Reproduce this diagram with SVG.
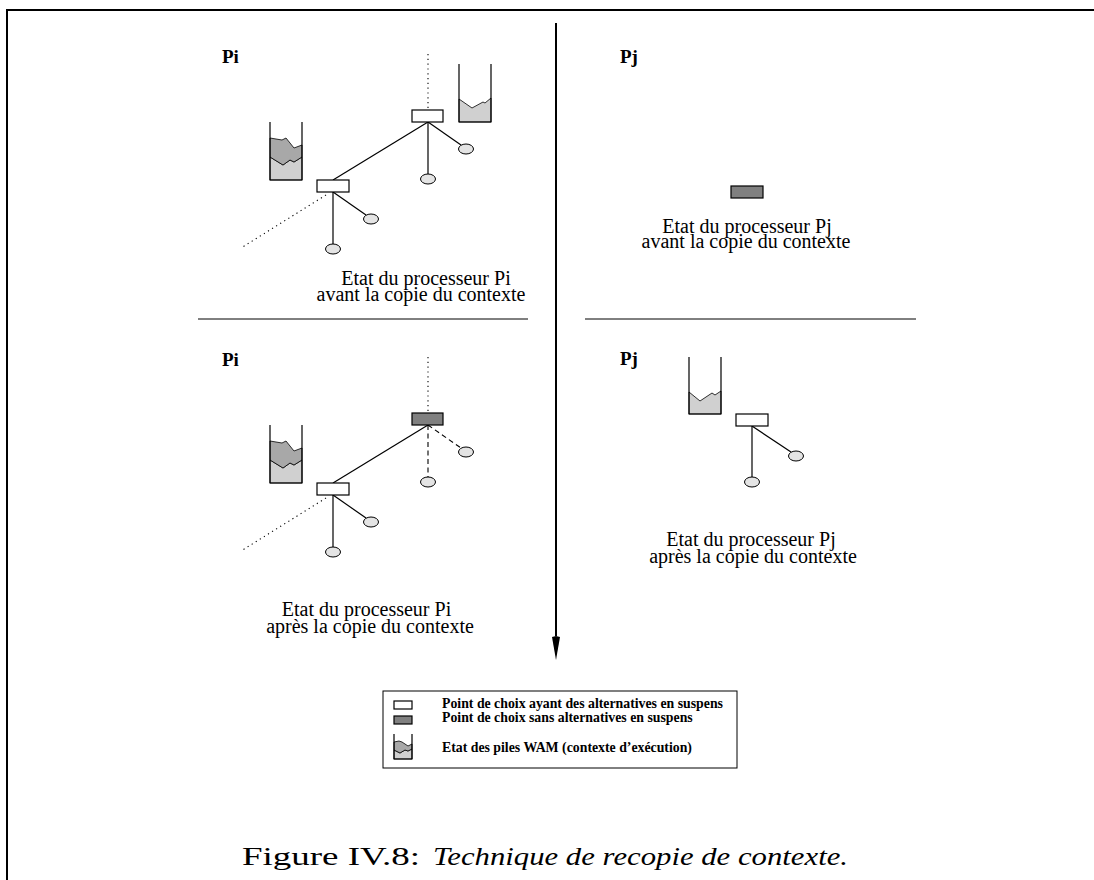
<svg xmlns="http://www.w3.org/2000/svg" width="1094" height="880" viewBox="0 0 1094 880">
<style>
.t{font-family:"Liberation Serif","Times New Roman",serif;font-size:20px;fill:#000}
.lb{font-family:"Liberation Serif","Times New Roman",serif;font-size:19px;font-weight:bold;fill:#000}
.lg{font-family:"Liberation Serif","Times New Roman",serif;font-size:13.8px;font-weight:bold;fill:#000}
.cap{font-family:"Liberation Serif","Times New Roman",serif;font-size:26px;fill:#000}
.cp{fill:#fff;stroke:#000;stroke-width:1.2}
.cpd{fill:#808080;stroke:#000;stroke-width:1.2}
.leaf{fill:#e4e4e4;stroke:#000;stroke-width:1}
.wall{fill:none;stroke:#000;stroke-width:1.2}
.lt{fill:#d0d0d0;stroke:#000;stroke-width:0.8}
.dk{fill:#a8a8a8;stroke:#000;stroke-width:0.8}
.e{stroke:#000;stroke-width:1.2;fill:none}
.dot{stroke:#000;stroke-width:1.1;stroke-dasharray:1.2 3.6;fill:none}
.dash{stroke:#000;stroke-width:1.1;stroke-dasharray:5 3.5;fill:none}
.sep{stroke:#000;stroke-width:1;fill:none}
</style>
<rect width="1094" height="880" fill="#fff"/>

<!-- frame -->
<g id="frame">
<path d="M7,880 V10 H1094" fill="none" stroke="#000" stroke-width="2"/>
</g>

<g id="connectors">
<!-- main divider -->
<line x1="556" y1="23" x2="556" y2="636" stroke="#000" stroke-width="2"/>
<path d="M556,636 L552,637 L556,660 L560,637 Z" fill="#000"/>
<line class="sep" x1="198" y1="319" x2="528" y2="319"/>
<line class="sep" x1="585" y1="319" x2="916" y2="319"/>

<!-- top-left tree -->
<line class="dot" x1="428" y1="54" x2="428" y2="109"/>
<line class="e" x1="428" y1="122" x2="333" y2="180"/>
<line class="e" x1="428" y1="122" x2="428" y2="174"/>
<line class="e" x1="428" y1="122" x2="461" y2="145"/>
<line class="e" x1="333" y1="192" x2="333" y2="244"/>
<line class="e" x1="333" y1="192" x2="366" y2="215"/>
<line class="dot" x1="326" y1="195" x2="241" y2="248"/>

<!-- bottom-left tree -->
<line class="dot" x1="428" y1="357" x2="428" y2="412"/>
<line class="e" x1="428" y1="425" x2="333" y2="483"/>
<line class="dash" x1="428" y1="425" x2="428" y2="477"/>
<line class="dash" x1="428" y1="425" x2="461" y2="448"/>
<line class="e" x1="333" y1="495" x2="333" y2="547"/>
<line class="e" x1="333" y1="495" x2="366" y2="518"/>
<line class="dot" x1="326" y1="498" x2="241" y2="551"/>

<!-- bottom-right tree -->
<line class="e" x1="752" y1="426" x2="752" y2="477"/>
<line class="e" x1="752" y1="426" x2="791" y2="452"/>
</g>

<!-- top-left quadrant -->
<g id="tl-label"><text class="lb" x="222" y="63">Pi</text></g>
<g id="tl-stack-left">
<path class="lt" d="M270,157 L283,165 L290,160 L294,162 L302,157 V180 H270 Z"/>
<path class="dk" d="M270,138 L282,140 L286,138 L294,148 L302,145 V157 L294,162 L290,160 L283,165 L270,157 Z"/>
<path class="wall" d="M270,122 V180 H302 V122"/>
</g>
<g id="tl-stack-right">
<path class="lt" d="M459,99 L472,108 L483,102 L485,103 L491,98 V122 H459 Z"/>
<path class="wall" d="M459,64 V122 H491 V64"/>
</g>
<g id="tl-cp-top"><rect class="cp" x="412" y="110" width="31" height="12"/></g>
<g id="tl-cp-bottom"><rect class="cp" x="317" y="180" width="32" height="12"/></g>
<g id="tl-leaf-1"><ellipse class="leaf" cx="428" cy="179" rx="7.5" ry="5"/></g>
<g id="tl-leaf-2"><ellipse class="leaf" cx="466" cy="149" rx="7.5" ry="5"/></g>
<g id="tl-leaf-3"><ellipse class="leaf" cx="333" cy="249" rx="7.5" ry="5"/></g>
<g id="tl-leaf-4"><ellipse class="leaf" cx="371" cy="219" rx="7.5" ry="5"/></g>
<g id="tl-caption">
<text class="t" x="426" y="285" text-anchor="middle">Etat du processeur Pi</text>
<text class="t" x="421" y="301" text-anchor="middle">avant la copie du contexte</text>
</g>

<!-- top-right quadrant -->
<g id="tr-label"><text class="lb" x="620" y="63">Pj</text></g>
<g id="tr-cp"><rect class="cpd" x="731" y="186" width="32" height="12"/></g>
<g id="tr-caption">
<text class="t" x="747" y="232.5" text-anchor="middle">Etat du processeur Pj</text>
<text class="t" x="746" y="247.5" text-anchor="middle">avant la copie du contexte</text>
</g>

<!-- bottom-left quadrant -->
<g id="bl-label"><text class="lb" x="222" y="366">Pi</text></g>
<g id="bl-stack">
<path class="lt" d="M270,460 L283,468 L290,463 L294,465 L302,460 V483 H270 Z"/>
<path class="dk" d="M270,441 L282,443 L286,441 L294,451 L302,448 V460 L294,465 L290,463 L283,468 L270,460 Z"/>
<path class="wall" d="M270,425 V483 H302 V425"/>
</g>
<g id="bl-cp-top"><rect class="cpd" x="412" y="413" width="31" height="12"/></g>
<g id="bl-cp-bottom"><rect class="cp" x="317" y="483" width="32" height="12"/></g>
<g id="bl-leaf-1"><ellipse class="leaf" cx="428" cy="482" rx="7.5" ry="5"/></g>
<g id="bl-leaf-2"><ellipse class="leaf" cx="466" cy="452" rx="7.5" ry="5"/></g>
<g id="bl-leaf-3"><ellipse class="leaf" cx="333" cy="552" rx="7.5" ry="5"/></g>
<g id="bl-leaf-4"><ellipse class="leaf" cx="371" cy="522" rx="7.5" ry="5"/></g>
<g id="bl-caption">
<text class="t" x="366.5" y="615.5" text-anchor="middle">Etat du processeur Pi</text>
<text class="t" x="370" y="632.5" text-anchor="middle">après la copie du contexte</text>
</g>

<!-- bottom-right quadrant -->
<g id="br-label"><text class="lb" x="620" y="365">Pj</text></g>
<g id="br-stack">
<path class="lt" d="M689,392 L700,401 L712,393 L715,395 L721,391 V414 H689 Z"/>
<path class="wall" d="M689,357 V414 H721 V357"/>
</g>
<g id="br-cp"><rect class="cp" x="736" y="414" width="32" height="12"/></g>
<g id="br-leaf-1"><ellipse class="leaf" cx="752" cy="482" rx="7.5" ry="5"/></g>
<g id="br-leaf-2"><ellipse class="leaf" cx="796" cy="456" rx="7.5" ry="5"/></g>
<g id="br-caption">
<text class="t" x="751" y="546" text-anchor="middle">Etat du processeur Pj</text>
<text class="t" x="753" y="562.5" text-anchor="middle">après la copie du contexte</text>
</g>

<!-- legend -->
<g id="legend">
<rect x="383" y="691" width="354" height="77" fill="#fff" stroke="#000" stroke-width="1"/>
<rect class="cp" x="394" y="701" width="18" height="8"/>
<rect class="cpd" x="394" y="716" width="18" height="8"/>
<path class="lt" d="M394,750 L400,753 L405,750 L408,751 L412,749 V759 H394 Z"/>
<path class="dk" d="M394,742 L399,741 L402,742 L408,746 L412,744 V749 L408,751 L405,750 L400,753 L394,750 Z"/>
<path class="wall" d="M394,734 V759 H412 V734"/>
<text class="lg" x="442" y="708">Point de choix ayant des alternatives en suspens</text>
<text class="lg" x="442" y="722">Point de choix sans alternatives en suspens</text>
<text class="lg" x="442" y="752">Etat des piles WAM (contexte d’exécution)</text>
</g>

<!-- caption -->
<g id="caption">
<text class="cap" x="242" y="865" textLength="178" lengthAdjust="spacingAndGlyphs">Figure IV.8:</text>
<text class="cap" x="433" y="865" font-style="italic" textLength="415" lengthAdjust="spacingAndGlyphs">Technique de recopie de contexte.</text>
</g>
</svg>
